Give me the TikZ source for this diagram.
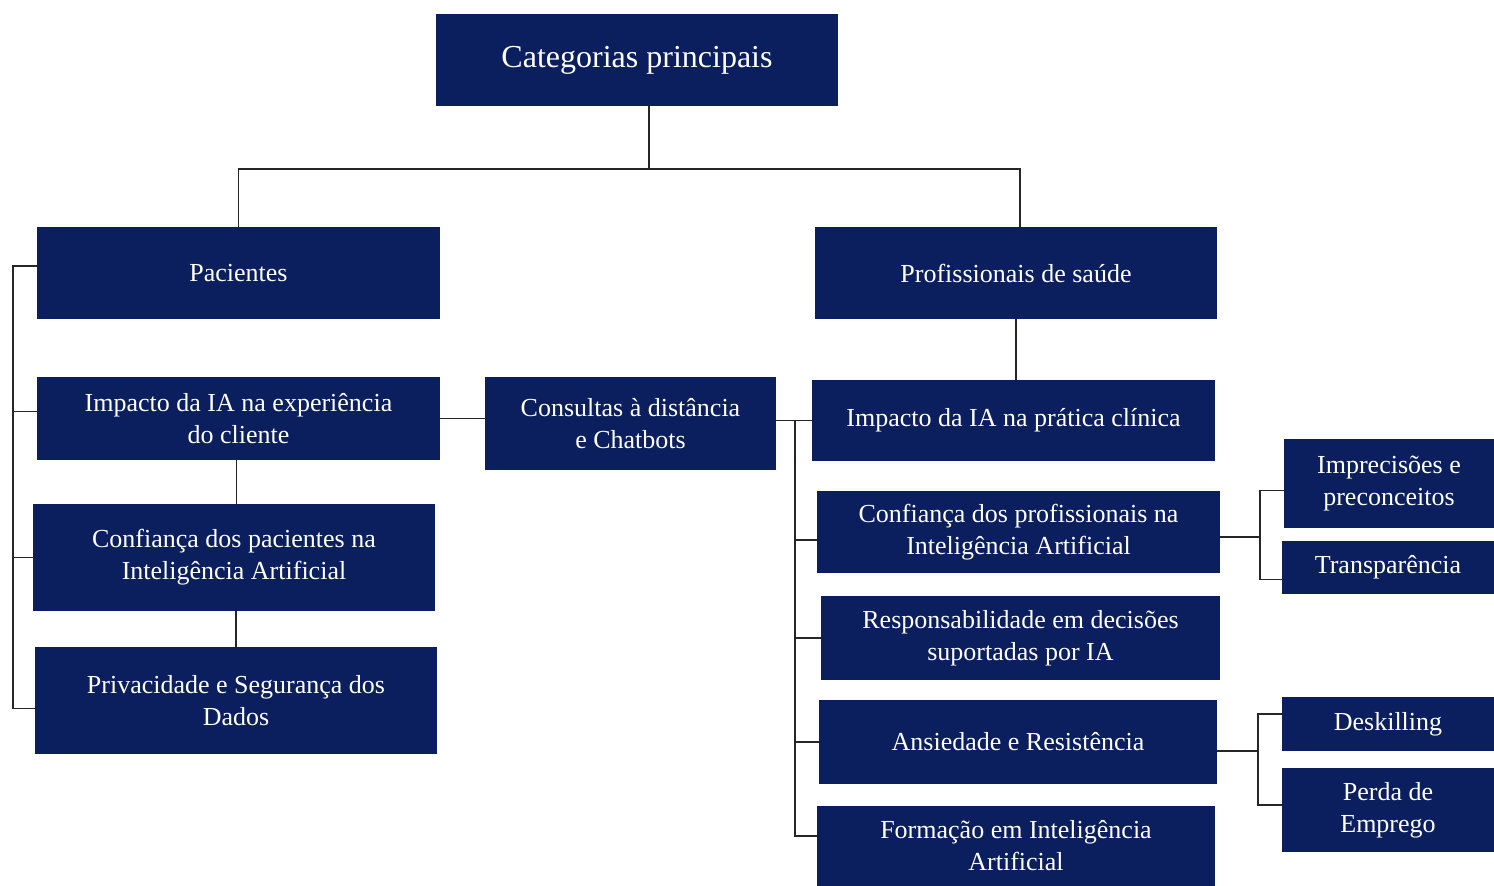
\documentclass[tikz,border=0pt]{standalone}
\usepackage{fontspec}
\setmainfont{Liberation Serif}
\definecolor{navy}{RGB}{11,30,94}
\begin{document}
\begin{tikzpicture}[x=0.5pt,y=-0.5pt,
  box/.style={fill=navy,text=white,align=center,inner sep=0pt,font=\fontsize{13}{16}\selectfont},
  link/.style={draw=black!85,line width=0.75pt}]
\useasboundingbox (0,0) rectangle (1494,886);
\node[box,minimum width=201pt,minimum height=46pt,font=\fontsize{16}{19}\selectfont] (cat) at (637,60) {Categorias principais};
\node[box,minimum width=201.5pt,minimum height=46pt] (pac) at (238.5,273) {Pacientes};
\node[box,minimum width=201pt,minimum height=46pt] (prof) at (1016,273) {Profissionais de saúde};
\node[box,minimum width=201.5pt,minimum height=41.5pt] (ic) at (238.5,418.5) {Impacto da IA na experiência\\do cliente};
\node[box,minimum width=145.5pt,minimum height=46.5pt] (cons) at (630.5,423.5) {Consultas à distância\\e Chatbots};
\node[box,minimum width=201.5pt,minimum height=40.5pt] (icl) at (1013.5,420.5) {Impacto da IA na prática clínica};
\node[box,minimum width=201pt,minimum height=53.5pt] (cp) at (234,557.5) {Confiança dos pacientes na\\Inteligência Artificial};
\node[box,minimum width=201pt,minimum height=53.5pt] (priv) at (236,700.5) {Privacidade e Segurança dos\\Dados};
\node[box,minimum width=201.5pt,minimum height=41pt] (cprof) at (1018.5,532) {Confiança dos profissionais na\\Inteligência Artificial};
\node[box,minimum width=199.5pt,minimum height=42pt] (resp) at (1020.5,638) {Responsabilidade em decisões\\suportadas por IA};
\node[box,minimum width=199pt,minimum height=42pt] (ans) at (1018,742) {Ansiedade e Resistência};
\node[box,minimum width=199pt,minimum height=40pt] (form) at (1016,846) {Formação em Inteligência\\Artificial};
\node[box,minimum width=105pt,minimum height=44.5pt] (impr) at (1389,483.5) {Imprecisões e\\preconceitos};
\node[box,minimum width=106pt,minimum height=26.5pt] (transp) at (1388,567.5) {Transparência};
\node[box,minimum width=106pt,minimum height=27pt] (desk) at (1388,724) {Deskilling};
\node[box,minimum width=106pt,minimum height=42pt] (perda) at (1388,810) {Perda de\\Emprego};
\coordinate (hb) at (0,169);
\coordinate (lb) at (13,0);
\coordinate (rb) at (795,0);
\coordinate (sb1) at (1260,0);
\coordinate (sb2) at (1258,0);
% attachment points
\coordinate (catS) at ([xshift=6pt]cat.south);
\coordinate (profN) at ([xshift=2pt]prof.north);
\coordinate (pacW) at ([yshift=3.5pt]pac.west);
\coordinate (icW) at ([yshift=3.5pt]ic.west);
\coordinate (privW) at ([yshift=-4pt]priv.west);
\coordinate (icS) at ([xshift=-1pt]ic.south);
\coordinate (cpS) at ([xshift=1pt]cp.south);
\coordinate (formW) at ([yshift=5pt]form.west);
\coordinate (cprofW) at ([yshift=-4pt]cprof.west);
\coordinate (cprofE) at ([yshift=-2.5pt]cprof.east);
\coordinate (imprW) at ([yshift=-3.5pt]impr.west);
\coordinate (transpW) at ([yshift=-6pt]transp.west);
\coordinate (ansE) at ([yshift=-4.5pt]ans.east);
\coordinate (deskW) at ([yshift=5pt]desk.west);
\coordinate (perdaW) at ([yshift=2.5pt]perda.west);
\draw[link] (catS) -- (catS |- hb);
\draw[link] (pac.north) -- (pac.north |- hb) -- (profN |- hb) -- (profN);
\draw[link] (pacW) -- (lb |- pacW) -- (lb |- privW) -- (privW);
\draw[link] (icW) -- (lb |- icW);
\draw[link] (cp.west) -- (lb |- cp.west);
\draw[link] (icS) -- (icS |- cp.north);
\draw[link] (cpS) -- (cpS |- priv.north);
\draw[link] (ic.east) -- (ic.east -| cons.west);
\draw[link] (icl.west -| cons.east) -- (icl.west);
\draw[link] (prof.south) -- (prof.south |- icl.north);
\draw[link] (rb |- icl.west) -- (rb |- formW) -- (formW);
\draw[link] (cprofW) -- (rb |- cprofW);
\draw[link] (resp.west) -- (rb |- resp.west);
\draw[link] (ans.west) -- (rb |- ans.west);
\draw[link] (cprofE) -- (sb1 |- cprofE);
\draw[link] (imprW) -- (sb1 |- imprW) -- (sb1 |- transpW) -- (transpW);
\draw[link] (ansE) -- (sb2 |- ansE);
\draw[link] (deskW) -- (sb2 |- deskW) -- (sb2 |- perdaW) -- (perdaW);
\end{tikzpicture}
\end{document}
